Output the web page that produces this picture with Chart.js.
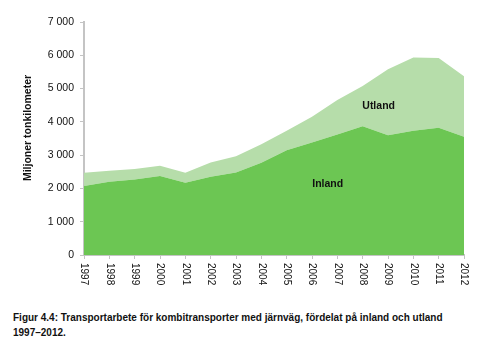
<!DOCTYPE html>
<html>
<head>
<meta charset="utf-8">
<script src="https://cdn.jsdelivr.net/npm/chart.js@4"></script>
<style>
  body { margin: 0; background: #fff; }
  #wrap { position: relative; width: 481px; height: 348px; }
  #caption {
    position: absolute; left: 13px; top: 310px;
    font: bold 10px "Liberation Sans", Arial, sans-serif;
    line-height: 15px; color: #111;
  }
</style>
</head>
<body>
<div id="wrap">
  <canvas id="chartArea" width="481" height="300"></canvas>
  <div id="caption">Figur 4.4: Transportarbete för kombitransporter med järnväg, fördelat på inland och utland<br>1997–2012.</div>
</div>
<script>
const years = ["1997", "1998", "1999", "2000", "2001", "2002", "2003", "2004",
  "2005", "2006", "2007", "2008", "2009", "2010", "2011", "2012"];
const inland = [2070, 2200, 2270, 2370, 2170, 2350, 2480, 2770,
  3150, 3380, 3620, 3870, 3600, 3730, 3820, 3550];
const utland = [400, 330, 310, 310, 300, 430, 490, 560,
  580, 770, 1040, 1210, 1980, 2200, 2100, 1820];
const yTicks = [0, 1000, 2000, 3000, 4000, 5000, 6000, 7000];
const yTitle = "Miljoner tonkilometer";
const areaLabels = [
  { text: "Utland", x: 11.63, y: 4480 },
  { text: "Inland", x: 9.62, y: 2120 },
];

const axisColor = "#c4c4c4";
const fontFamily = "'Liberation Sans', Arial, sans-serif";

const fmt = v => String(v).replace(/\B(?=(\d{3})+(?!\d))/g, " ");

// year labels read top-to-bottom, axis title and area names
const extraText = {
  id: "extraText",
  afterDraw: chart => {
    const ctx = chart.ctx;
    const xs = chart.scales.x;
    const ys = chart.scales.y;
    ctx.save();
    ctx.fillStyle = "#111";
    ctx.font = "10px " + fontFamily;
    ctx.textAlign = "left";
    ctx.textBaseline = "middle";
    years.forEach((y, i) => {
      ctx.save();
      ctx.translate(xs.getPixelForValue(i), xs.top + 8);
      ctx.rotate(Math.PI / 2);
      ctx.fillText(y, 0, 0);
      ctx.restore();
    });

    ctx.font = "bold 10.5px " + fontFamily;
    ctx.textAlign = "center";
    ctx.save();
    ctx.translate(28, 128);
    ctx.rotate(-Math.PI / 2);
    ctx.fillText(yTitle, 0, 0);
    ctx.restore();

    areaLabels.forEach(l => {
      ctx.fillText(l.text, xs.getPixelForValue(l.x), ys.getPixelForValue(l.y));
    });
    ctx.restore();
  },
};

new Chart(document.getElementById("chartArea").getContext("2d"), {
  type: "line",
  data: {
    labels: years,
    datasets: [
      {
        label: "Inland",
        data: inland,
        backgroundColor: "#6cc653",
        borderWidth: 0,
        pointRadius: 0,
        fill: "origin",
      },
      {
        label: "Utland",
        data: utland,
        backgroundColor: "#b6ddaa",
        borderWidth: 0,
        pointRadius: 0,
        fill: "-1",
      },
    ],
  },
  options: {
    responsive: false,
    animation: false,
    layout: { padding: { top: 22, right: 17, left: 0, bottom: 0 } },
    plugins: {
      legend: { display: false },
      tooltip: { enabled: false },
    },
    scales: {
      x: {
        type: "category",
        offset: false,
        grid: { drawOnChartArea: false, drawTicks: true, tickLength: 4, color: axisColor },
        border: { color: axisColor, width: 2 },
        ticks: { display: false },
        afterFit: scale => { scale.height = 45; },
      },
      y: {
        stacked: true,
        min: 0,
        max: 7000,
        afterBuildTicks: scale => {
          scale.ticks = yTicks.map(v => ({ value: v }));
        },
        grid: { drawOnChartArea: false, drawTicks: true, tickLength: 4, color: axisColor },
        border: { color: axisColor, width: 2 },
        ticks: {
          color: "#111",
          padding: 6,
          font: { family: fontFamily, size: 10.5 },
          callback: v => fmt(v),
        },
        afterFit: scale => { scale.width = 84; },
      },
    },
  },
  plugins: [extraText],
});
</script>
</body>
</html>
